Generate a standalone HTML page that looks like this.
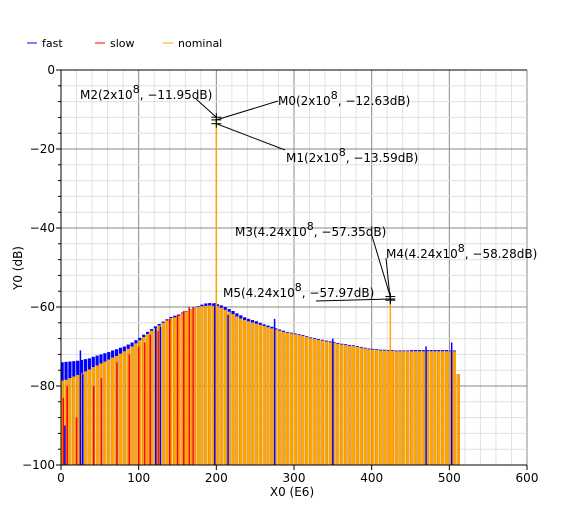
<!DOCTYPE html>
<html><head><meta charset="utf-8"><style>
body{margin:0;background:#fff;font-family:"DejaVu Sans","Liberation Sans",sans-serif;}
svg text{font-family:"DejaVu Sans","Liberation Sans",sans-serif;}
</style></head><body>
<svg id="chart" width="577" height="511" xmlns="http://www.w3.org/2000/svg">
<g>
 <g><line x1="27" y1="43" x2="37" y2="43" stroke="#0000ff"/><text x="42" y="47" font-size="11">fast</text></g>
 <g><line x1="95" y1="43" x2="105" y2="43" stroke="#ff0000"/><text x="110" y="47" font-size="11">slow</text></g>
 <g><line x1="163" y1="43" x2="173" y2="43" stroke="#ffa500"/><text x="178" y="47" font-size="11">nominal</text></g>
</g>
<g id="grid"></g>
<g id="bars"></g>
<g id="axes"></g>
<g id="markers"></g>
<text x="22" y="268" font-size="12" transform="rotate(-90 22 268)" text-anchor="middle">Y0 (dB)</text>
<text x="292" y="496" font-size="12" text-anchor="middle">X0 (E6)</text>
</svg>
<script>
const xTicks=[0,100,200,300,400,500,600];
const yTicks=[0,-20,-40,-60,-80,-100];
const binStep=5;
const nominal=[-78.6,-78.4,-78,-77.6,-77.2,-76.8,-76.3,-75.8,-75.2,-74.8,
-74.3,-73.8,-73.3,-72.8,-72.4,-71.8,-71.2,-70.6,-70.0,-69.2,
-68.4,-67.6,-66.8,-66.0,-65.3,-64.7,-64.0,-63.4,-62.8,-62.6,
-62.2,-61.6,-61.1,-60.7,-60.3,-60.0,-59.8,-59.7,-59.6,-59.7,
-59.8,-60.2,-60.7,-61.2,-61.8,-62.4,-62.9,-63.3,-63.6,-63.9,
-64.2,-64.5,-64.8,-65.1,-65.4,-65.7,-66.0,-66.3,-66.5,-66.7,
-66.9,-67.1,-67.3,-67.6,-67.9,-68.1,-68.3,-68.5,-68.7,-68.9,
-69.1,-69.3,-69.5,-69.6,-69.8,-69.9,-70.1,-70.3,-70.5,-70.7,
-70.8,-70.9,-71.0,-71.0,-71.1,-71.1,-71.2,-71.2,-71.2,-71.2,
-71.2,-71.2,-71.2,-71.2,-71.2,-71.2,-71.2,-71.2,-71.2,-71.2,
-71.2,-71.2,-77.0];
const fast=[-74,-73.9,-73.8,-73.7,-73.6,-73.4,-73.2,-73,-72.6,-72.3,
-72,-71.7,-71.4,-71,-70.7,-70.3,-70,-69.5,-69,-68.4,
-67.8,-67,-66.3,-65.6,-64.9,-64.3,-63.7,-63.1,-62.5,-62.2,
-61.9,-61.4,-61,-60.6,-60.2,-59.8,-59.4,-59.1,-59,-59.1,
-59.3,-59.6,-60,-60.5,-61,-61.6,-62.1,-62.6,-63,-63.3,
-63.6,-64,-64.4,-64.7,-65,-65.4,-65.7,-66,-66.3,-66.5,
-66.7,-66.9,-67.1,-67.4,-67.7,-67.9,-68.1,-68.3,-68.5,-68.7,
-68.9,-69.1,-69.3,-69.4,-69.6,-69.7,-69.9,-70.1,-70.3,-70.5,
-70.6,-70.7,-70.8,-70.8,-70.9,-70.9,-71,-71,-71,-71,
-70.9,-70.9,-70.9,-70.9,-70.9,-70.9,-70.9,-70.9,-70.9,-70.9,
-71,-71,-77];
const slowSpurX=[3,8,20,28,42,52,72,88,100,108,115,125,140,150,158,165,170];
const slowSpurY=[-83,-80,-88,-81,-80,-78,-74,-72,-70,-69,-67,-66,-63,-62,-61,-60,-60];
const fastSpurX=[5,25,28,122,128,198,215,275,350,470,503];
const fastSpurY=[-90,-71,-77,-65,-65,-59,-62,-63,-68,-70,-69];
const spikeX=[200,424];
const spikeY=[-12.63,-57.97];
const markerLabels=["M2(2x10","M0(2x10","M1(2x10","M3(4.24x10","M4(4.24x10","M5(4.24x10"];
const markerValues=["-11.95dB)","-12.63dB)","-13.59dB)","-57.35dB)","-58.28dB)","-57.97dB)"];
const markerX=[200,200,200,424,424,424];
const markerY=[-11.95,-12.63,-13.59,-57.35,-58.28,-57.97];

const X0=61,X1=527,Y0=70,Y1=465;
const sx=v=>X0+(v-0)/600*(X1-X0);
const sy=v=>Y0+(0-v)/100*(Y1-Y0);
const NS="http://www.w3.org/2000/svg";
function mk(tag,attrs,parent){const e=document.createElementNS(NS,tag);for(const k in attrs)e.setAttribute(k,attrs[k]);parent.appendChild(e);return e;}
const grid=document.getElementById('grid'),bars=document.getElementById('bars'),axes=document.getElementById('axes'),mg=document.getElementById('markers');
for(let v=0;v<=600;v+=20){const l=mk('line',{x1:sx(v),x2:sx(v),y1:Y0,y2:Y1,stroke:v%100==0?'#888':'#e0e0e0','stroke-width':1},grid);

}
for(let v=0;v>=-100;v-=4){const l=mk('line',{x1:X0,x2:X1,y1:sy(v),y2:sy(v),stroke:v%20==0?'#888':'#e0e0e0','stroke-width':1},grid);

}
function bar(x,v,col,w,name){const r=mk('rect',{x:sx(x)-w/2,y:sy(v),width:w,height:Y1-sy(v),fill:col},bars);

}
fast.forEach((v,i)=>bar(i*binStep+1.5,v,'#0000ff',3.2,'fast-bar'));
nominal.forEach((v,i)=>bar(i*binStep+1.5,v,'#ffa500',3.2,'nominal-bar'));
slowSpurX.forEach((x,i)=>bar(x,slowSpurY[i],'#ff0000',1.5,'slow-bar'));
fastSpurX.forEach((x,i)=>bar(x,fastSpurY[i],'#0000ff',1.5,'fast-spur'));
spikeX.forEach((x,i)=>bar(x,spikeY[i],'#ffa500',1.5,'nominal-spike'));
mk('line',{x1:X0,x2:X1,y1:Y0,y2:Y0,stroke:'#000'},axes);
mk('line',{x1:X0,x2:X0,y1:Y0,y2:Y1,stroke:'#000'},axes);
mk('line',{x1:X0,x2:X1,y1:Y1,y2:Y1,stroke:'#000'},axes);
xTicks.forEach(v=>{mk('line',{x1:sx(v),x2:sx(v),y1:Y1,y2:Y1+5,stroke:'#000'},axes);
const t=mk('text',{x:sx(v),y:Y1+17,'font-size':12,'text-anchor':'middle'},axes);t.textContent=v;

});
for(let v=0;v>=-100;v-=4)mk('line',{x1:X0-(v%20==0?5:3),x2:X0,y1:sy(v),y2:sy(v),stroke:'#000'},axes);
yTicks.forEach(v=>{const t=mk('text',{x:X0-6,y:sy(v)+4,'font-size':12,'text-anchor':'end'},axes);t.textContent=v==0?'0':'\u2212'+(-v);

});
const tpos=[[80,99],[278,105],[286,162],[235,236],[386,258],[223,297]];
const lend=[[196,99],[278,101],[285,150],[372,236],[386,258],[316,301]];
markerX.forEach((x,i)=>{const px=sx(x),py=sy(markerY[i]);
mk('line',{x1:px-5,x2:px+5,y1:py,y2:py,stroke:'#000'},mg);
mk('line',{x1:px,x2:px,y1:py-4,y2:py+4,stroke:'#000'},mg);
mk('line',{x1:lend[i][0],y1:lend[i][1],x2:px,y2:py,stroke:'#000'},mg);
const t=mk('text',{x:tpos[i][0],y:tpos[i][1],'font-size':12},mg);


t.appendChild(document.createTextNode(markerLabels[i]));
const s=mk('tspan',{dy:-6,'font-size':11},t);s.textContent='8';
const s2=mk('tspan',{dy:6},t);s2.textContent=', '+markerValues[i].replace('-','\u2212');});
</script>
</body></html>
